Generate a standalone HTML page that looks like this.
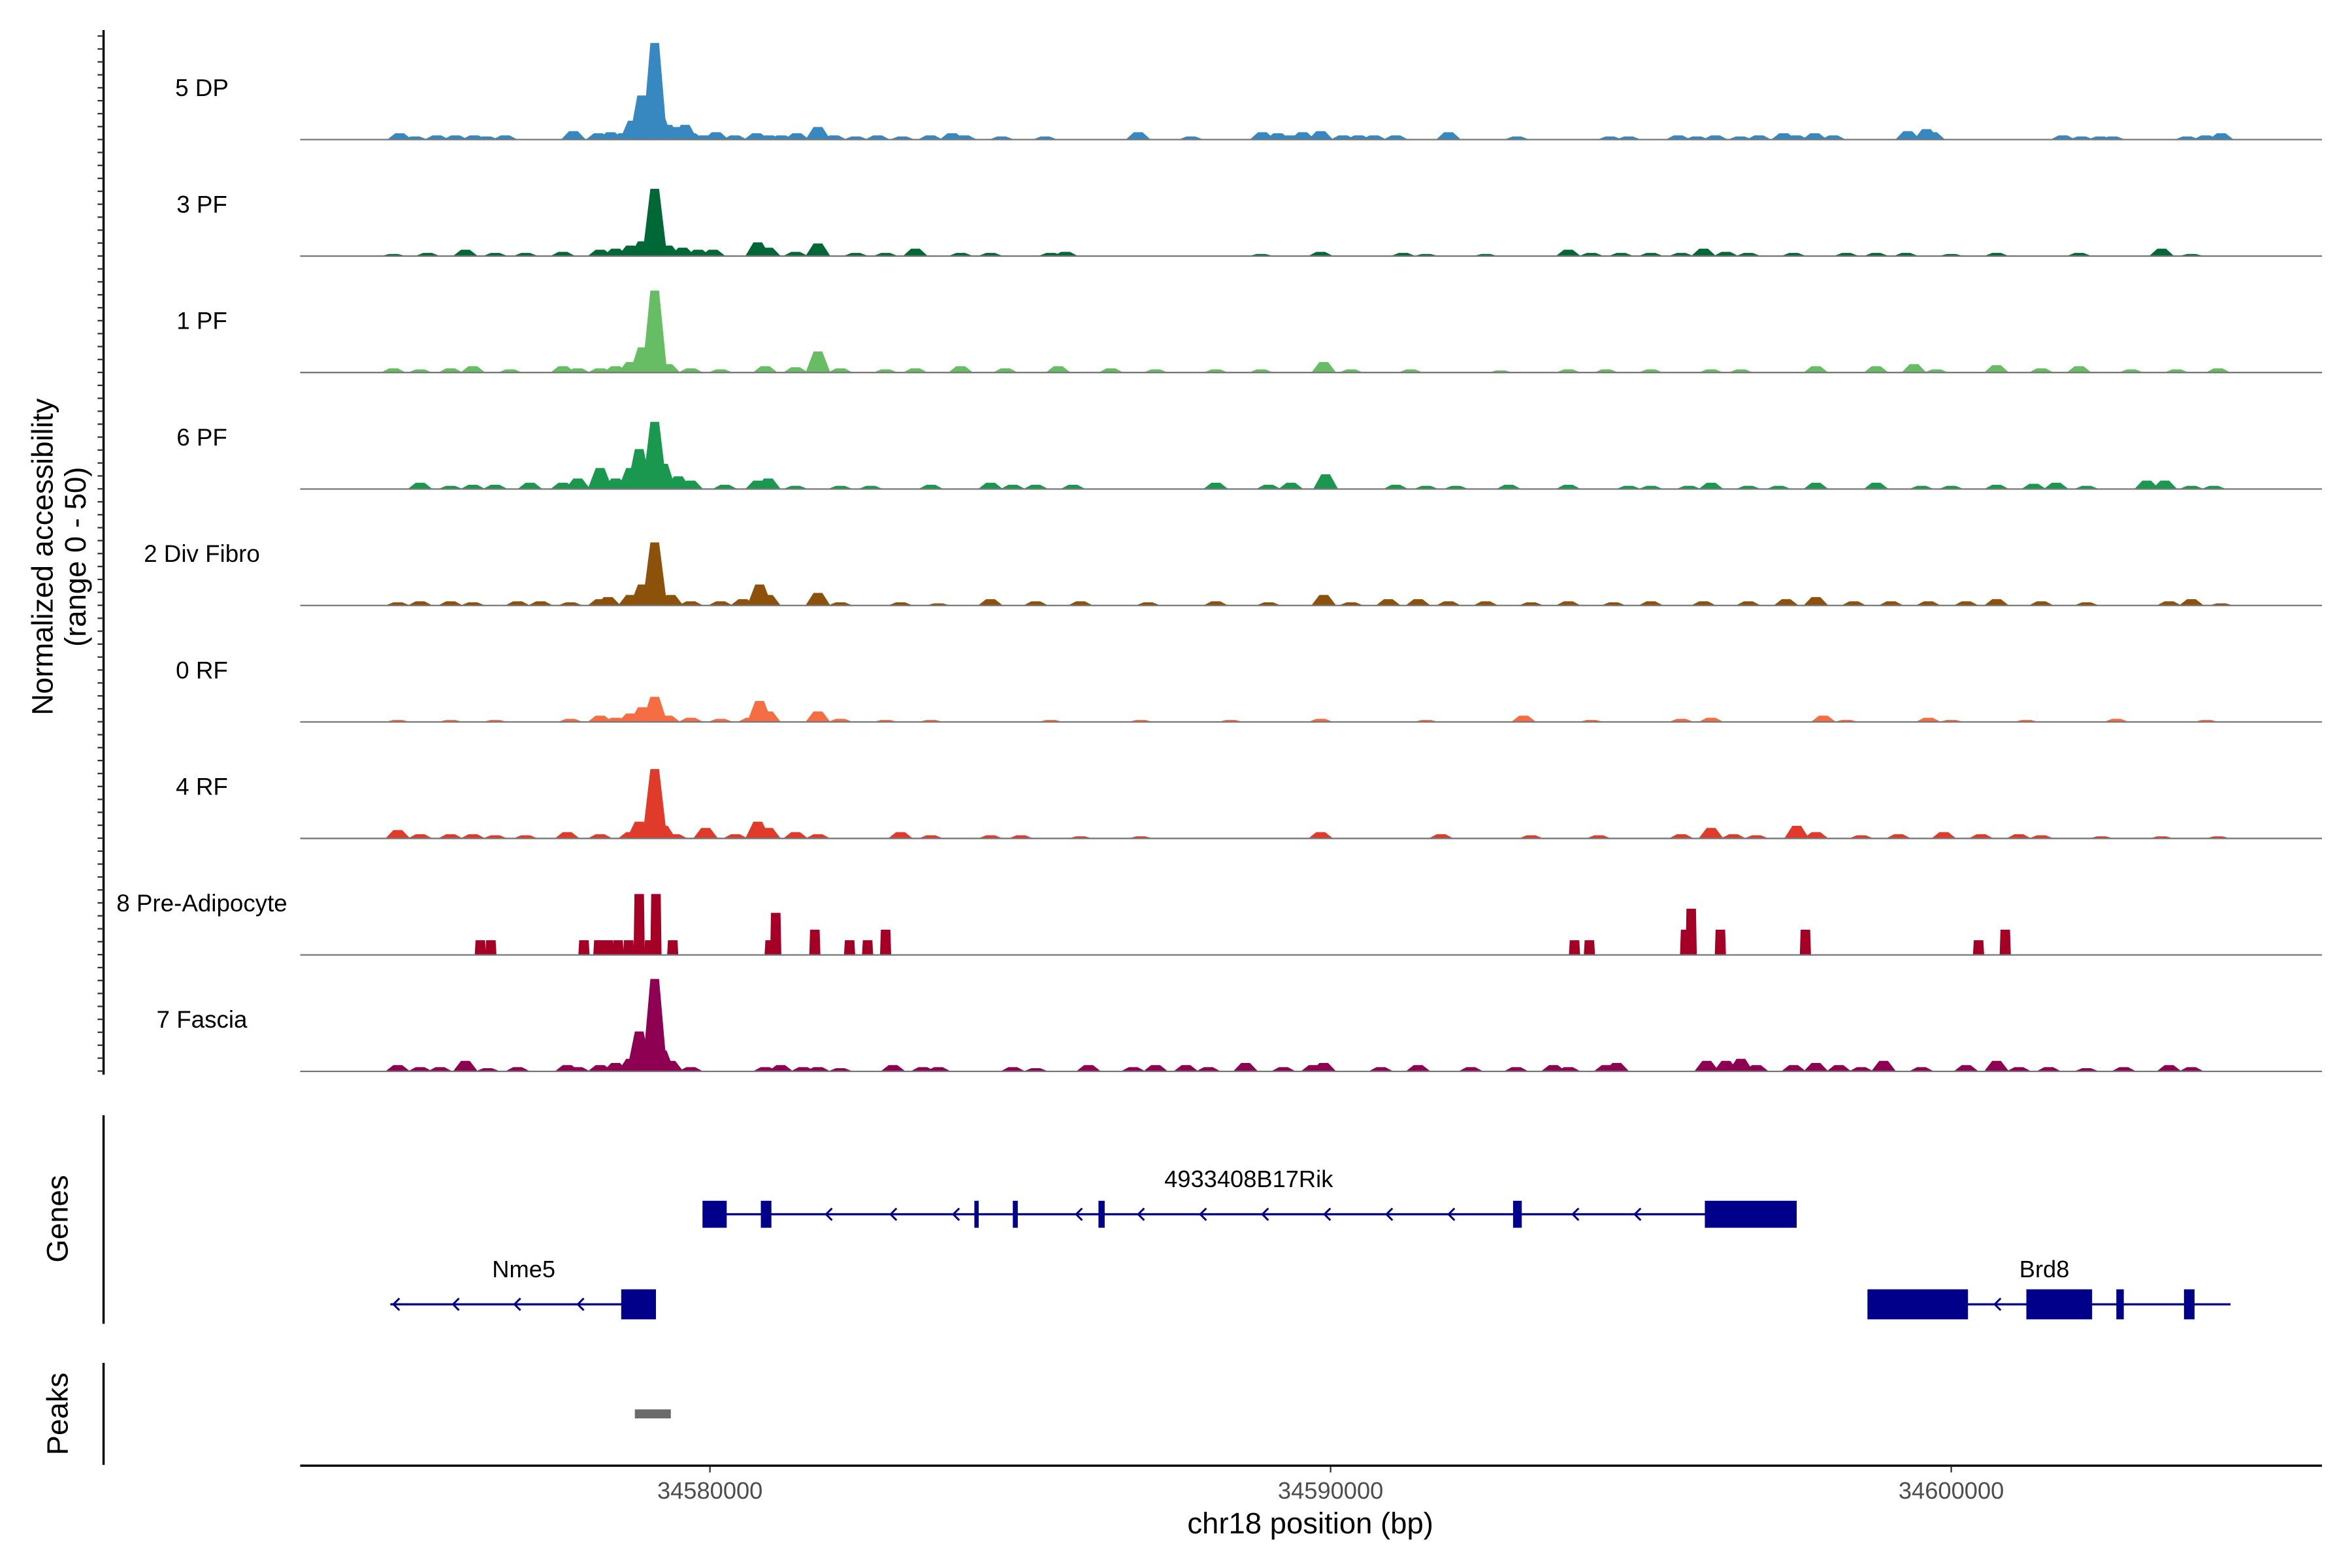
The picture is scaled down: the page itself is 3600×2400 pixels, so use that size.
<!DOCTYPE html>
<html><head><meta charset="utf-8"><style>
html,body{margin:0;padding:0;background:#fff;}
svg{display:block;font-family:"Liberation Sans",Arial,sans-serif;}
</style></head><body>
<svg id="chart" width="3600" height="2400" viewBox="0 0 1567 1044.67" preserveAspectRatio="none" xmlns="http://www.w3.org/2000/svg"></svg>
<script>
// ---- data (positions in kb relative to ORIGIN bp, heights in normalized accessibility 0-50) ----
const ORIGIN = 34580000;
const trackNames = ["5 DP","3 PF","1 PF","6 PF","2 Div Fibro","0 RF","4 RF","8 Pre-Adipocyte","7 Fascia"];
const trackColors = ["#3787c0","#006837","#66bd63","#1a9850","#8c510a","#f46d43","#e03b2a","#a50026","#8e0152"];
const dp5 = [[-5.0,3],[-4.75,1.5],[-4.4,2],[-4.1,2],[-3.8,2],[-3.6,1.5],[-3.3,2],[-2.2,4],[-1.8,3],[-1.6,3.5],[-1.4,3],[-1.25,9],[-1.1,21],[-0.97,15],[-0.89,46],[-0.8,11],[-0.68,7],[-0.55,6],[-0.4,7],[-0.3,3],[-0.1,2],[0.1,3.5],[0.4,2],[0.75,3],[0.95,2],[1.15,2],[1.4,3],[1.74,6],[2.0,2],[2.35,1.5],[2.7,2],[3.1,1.5],[3.55,2],[3.9,3],[4.1,2],[4.7,1.5],[5.4,1.5],[6.9,3.5],[7.75,1.5],[8.9,3.5],[9.15,3],[9.35,2],[9.55,3.5],[9.84,4],[10.2,2],[10.45,2],[10.7,2],[11.05,2],[11.9,3.5],[13.0,1.5],[14.5,1.5],[14.8,1.5],[15.6,2],[15.9,1.5],[16.2,2],[16.6,1.5],[16.9,2],[17.3,3],[17.5,2],[17.8,3],[18.1,2],[19.3,4],[19.6,5],[19.7,3.5],[21.8,2],[22.1,1.5],[22.4,1.5],[22.6,1.5],[23.8,1.5],[24.1,2],[24.35,3]];
const pf3 = [[-5.1,1],[-4.55,1.5],[-3.94,3],[-3.46,1.5],[-2.97,1.5],[-2.37,2],[-1.77,3],[-1.52,3.5],[-1.28,5],[-1.09,7],[-0.89,32],[-0.68,5],[-0.44,4],[-0.19,3],[0.05,3],[0.77,6.5],[0.94,4],[1.38,2],[1.74,6],[2.35,1.5],[2.83,1.5],[3.31,3.5],[4.04,1.5],[4.52,1.5],[5.49,1.5],[5.73,2],[8.88,1],[9.84,2],[11.17,1.5],[11.54,1],[12.5,1],[13.83,3],[14.2,1.5],[14.68,1.5],[15.16,1.5],[15.65,1.5],[16.01,3.5],[16.37,2],[16.73,1.5],[17.46,1.5],[18.31,1.5],[18.79,1.5],[19.27,1.5],[20.0,1],[20.73,1.5],[22.06,1.5],[23.39,3.5],[23.87,1]];
const pf1 = [[-5.1,2],[-4.67,1.5],[-4.18,2],[-3.82,3],[-3.22,1.5],[-2.37,3],[-2.13,2],[-1.77,2],[-1.52,3],[-1.28,5],[-1.09,12],[-0.89,39],[-0.68,4],[-0.31,2],[0.17,1.5],[0.89,3],[1.38,2.5],[1.74,10],[2.1,2],[2.83,1.5],[3.31,2],[4.04,3],[4.76,2],[5.61,3],[6.46,2],[7.18,1.5],[8.15,1.5],[8.88,1.5],[9.89,5],[10.33,1.5],[11.29,1.5],[12.74,1],[13.83,1.5],[14.44,1.5],[15.16,1.5],[16.13,1.5],[16.61,1.5],[17.82,3],[18.79,3],[19.4,4],[19.76,1.5],[20.73,3.5],[21.45,2],[22.06,3],[22.9,1.5],[23.63,1.5],[24.3,2]];
const pf6 = [[-4.67,3],[-4.18,1.5],[-3.82,2],[-3.46,2],[-2.9,3],[-2.37,3],[-2.13,5],[-1.77,10],[-1.52,5],[-1.28,10],[-1.14,19],[-0.89,32],[-0.75,12],[-0.51,6],[-0.31,4],[0.24,2],[0.77,4],[0.94,5],[1.38,1.5],[2.1,1.5],[2.59,1.5],[3.56,2],[4.52,3],[4.88,2],[5.25,2],[5.85,2],[8.15,3],[9.0,2],[9.36,3],[9.92,7],[11.05,2],[11.54,1.5],[12.02,1.5],[12.87,2],[13.83,2],[14.8,1.5],[15.16,1.5],[15.77,1.5],[16.13,3],[16.73,1.5],[17.22,1.5],[17.82,3],[18.79,3],[19.52,1.5],[20.0,1.5],[20.73,2],[21.33,2.5],[21.69,3],[22.18,1.5],[23.15,4],[23.44,4],[23.87,1.5],[24.23,1.5]];
const divFibro2 = [[-5.03,1.5],[-4.67,2],[-4.18,2],[-3.82,1.5],[-3.1,2],[-2.73,2],[-2.25,1.5],[-1.77,3],[-1.64,4],[-1.28,5],[-1.09,10],[-0.89,30],[-0.63,5],[-0.31,2],[0.17,2],[0.53,3],[0.8,10],[0.94,5],[1.74,6],[2.1,1.5],[3.07,1.5],[3.68,1],[4.52,3],[5.25,2],[5.97,2],[7.06,1.5],[8.15,2],[9.0,1.5],[9.89,5],[10.33,1.5],[10.93,3],[11.41,3],[11.9,2],[12.5,2],[13.23,1.5],[13.83,2],[14.56,1.5],[15.16,2],[16.01,2],[16.73,2],[17.34,3],[17.82,4],[18.43,2],[19.03,2],[19.63,2],[20.24,2],[20.73,3],[21.45,2],[22.18,1.5],[23.51,2],[23.87,3],[24.35,1]];
const rf0 = [[-5.03,1],[-4.18,1],[-3.46,1],[-2.25,1.5],[-1.77,3],[-1.52,2],[-1.28,4],[-1.09,7],[-0.89,12],[-0.68,3],[-0.31,2],[0.17,1.5],[0.65,2],[0.8,10],[0.94,5],[1.74,5],[2.1,1.5],[2.83,1],[3.56,1],[5.49,1],[6.94,1],[8.39,1],[9.84,1.5],[11.54,1],[13.11,3],[14.2,1],[15.65,1.5],[16.13,2],[17.94,3],[18.31,1],[19.63,2],[20.0,1],[21.21,1],[22.66,1.5],[24.11,1]];
const rf4 = [[-5.03,4],[-4.67,2],[-4.18,2],[-3.82,2],[-3.46,1.5],[-2.97,1.5],[-2.3,3],[-1.77,2],[-1.28,3],[-1.14,8],[-0.89,33],[-0.75,6],[-0.56,2],[-0.07,5],[0.41,2],[0.77,8],[0.94,5],[1.38,3],[1.74,2],[3.07,3],[3.56,1.5],[4.52,1.5],[5.01,1.5],[5.97,1],[6.94,1],[9.84,3],[11.78,2],[13.23,1.5],[14.32,1.5],[15.65,2],[16.13,5],[16.49,2],[16.86,1.5],[17.51,6],[17.82,3],[18.55,1.5],[19.15,2],[19.88,3],[20.48,2],[21.09,2],[21.45,1.5],[22.42,1],[23.39,1],[24.3,1]];
const preAdipo8 = [[-3.7,7],[-3.53,7],[-2.03,7],[-1.79,7],[-1.64,7],[-1.48,7],[-1.31,7],[-1.14,29],[-0.97,7],[-0.87,29],[-0.6,7],[0.97,7],[1.06,20],[1.69,12],[2.25,7],[2.54,7],[2.83,12],[13.93,7],[14.17,7],[15.72,12],[15.81,22],[16.28,12],[17.65,12],[20.44,7],[20.87,12]];
const fascia7 = [[-5.03,3],[-4.67,2],[-4.35,2],[-3.94,5],[-3.58,1.5],[-3.1,2],[-2.3,3],[-2.13,2],[-1.77,3],[-1.52,4],[-1.28,6],[-1.14,19],[-0.99,13],[-0.89,44],[-0.77,10],[-0.63,5],[-0.31,2],[0.89,2],[1.14,3],[1.5,2],[1.74,2],[2.1,1.5],[2.95,3],[3.43,2],[3.68,2],[4.88,2],[5.25,1.5],[6.1,3],[6.82,2],[7.18,3],[7.67,3],[8.03,2],[8.63,4],[9.24,2],[9.72,3],[9.89,4],[10.81,2],[11.41,3],[12.26,2],[12.99,2],[13.59,3],[13.83,2],[14.44,3],[14.61,4],[16.06,5],[16.37,5],[16.61,6],[16.86,3],[17.46,3],[17.82,4],[18.19,3],[18.55,2],[18.91,5],[19.52,2],[20.24,3],[20.73,5],[21.09,2],[21.57,2],[22.18,1.5],[22.78,2],[23.51,3],[23.87,2]];
const trackData = [dp5, pf3, pf1, pf6, divFibro2, rf0, rf4, preAdipo8, fascia7];
const xTicks = [34580000, 34590000, 34600000];
const xTickLabels = ["34580000","34590000","34600000"];
// genes: [startKb, endKb]
const rikSpan = [-0.12, 17.51];
const rikExons = [[-0.12,0.27],[0.82,0.99],[4.26,4.33],[4.88,4.96],[6.26,6.36],[12.94,13.08],[16.03,17.51]];
const rikChevrons = [1.87,2.91,3.92,5.9,6.9,7.9,8.9,9.9,10.9,11.9,13.9,14.9];
const nme5Span = [-5.15, -0.87];
const nme5Exons = [[-1.43,-0.87]];
const nme5Chevrons = [-4.14,-3.15,-2.13];
const brd8Span = [18.65, 24.5];
const brd8Exons = [[18.65,20.27],[21.21,22.27],[22.66,22.78],[23.75,23.92]];
const brd8Chevrons = [20.7];
const peakRegions = [[-1.21,-0.63]];

// ---- scales ----
const NS = "http://www.w3.org/2000/svg";
const svg = document.getElementById("chart");
function xKb(kb){ return 473 + kb*41.35; }
function xBp(bp){ return xKb((bp-ORIGIN)/1000); }
const Y_PER_UNIT = 1.4;
function baseY(i){ return 93 + i*77.6; }
function yVal(i,v){ return baseY(i) - v*Y_PER_UNIT; }
function mk(tag, attrs, parent){
  const e = document.createElementNS(NS, tag);
  for (const k in attrs) e.setAttribute(k, attrs[k]);
  (parent||svg).appendChild(e);
  return e;
}

// ---- tracks ----
trackData.forEach((arr, i) => {
  const g = mk("g", {});
  
  
  const col = trackColors[i];
  const hw = i === 7 ? 0.09 : 0.2;
  const top = i === 7 ? 0.85 : 0.35;
  arr.forEach(p => {
    const x0 = xKb(p[0]-hw), x1 = xKb(p[0]-hw*top), x2 = xKb(p[0]+hw*top), x3 = xKb(p[0]+hw);
    const yb = baseY(i), yt = yVal(i, p[1]);
    const poly = mk("polygon", {points: `${x0},${yb} ${x1},${yt} ${x2},${yt} ${x3},${yb}`, fill: col}, g);
    
    
  });
  const bl = mk("line", {x1:200, x2:1547, y1:baseY(i), y2:baseY(i), stroke:"#777", "stroke-width":1}, g);
  
  
  const lab = mk("text", {x:134.5, y:baseY(i)-29, "text-anchor":"middle", "font-size":16, fill:"#000"}, g);
  lab.textContent = trackNames[i];
  
  
});

// ---- y axis ----
const ya = mk("line", {x1:69, x2:69, y1:20, y2:716, stroke:"#000", "stroke-width":1.5});


for (let t = 24; t < 716; t += 8.62) {
  const tk = mk("line", {x1:65, x2:69, y1:t, y2:t, stroke:"#333", "stroke-width":1});
  
  
}
const yt1 = mk("text", {x:0, y:0, transform:"translate(35,371) rotate(-90)", "text-anchor":"middle", "font-size":19.8});
yt1.textContent = "Normalized accessibility";


const yt2 = mk("text", {x:0, y:0, transform:"translate(57,371) rotate(-90)", "text-anchor":"middle", "font-size":19.8});
yt2.textContent = "(range 0 - 50)";



// ---- genes panel ----
const ga = mk("line", {x1:69, x2:69, y1:743, y2:882, stroke:"#000", "stroke-width":1.5});


const gl = mk("text", {x:0, y:0, transform:"translate(45,812) rotate(-90)", "text-anchor":"middle", "font-size":19.8});
gl.textContent = "Genes";


const GENE = "#00008b";
function drawGene(name, span, exons, chevs, y, h, labelKb, labelY){
  const g = mk("g", {});
  
  
  mk("line", {x1:xKb(span[0]), x2:xKb(span[1]), y1:y, y2:y, stroke:GENE, "stroke-width":1.5}, g);
  exons.forEach(e => {
    const r = mk("rect", {x:xKb(e[0]), y:y-h/2, width:Math.max(2, xKb(e[1])-xKb(e[0])), height:h, fill:GENE}, g);
    
    
  });
  chevs.forEach(c => {
    const cx = xKb(c);
    mk("polyline", {points:`${cx+4},${y-4} ${cx},${y} ${cx+4},${y+4}`, fill:"none", stroke:GENE, "stroke-width":1.3}, g);
  });
  const t = mk("text", {x:xKb(labelKb), y:labelY, "text-anchor":"middle", "font-size":15.8}, g);
  t.textContent = name;
  
  
}
drawGene("4933408B17Rik", rikSpan, rikExons, rikChevrons, 809, 18, 8.68, 791);
drawGene("Nme5", nme5Span, nme5Exons, [-5.1].concat(nme5Chevrons), 869, 20, -3.0, 851);
drawGene("Brd8", brd8Span, brd8Exons, brd8Chevrons, 869, 20, 21.5, 851);

// ---- peaks panel ----
const pa = mk("line", {x1:69, x2:69, y1:908, y2:976, stroke:"#000", "stroke-width":1.5});


const pl = mk("text", {x:0, y:0, transform:"translate(45,942) rotate(-90)", "text-anchor":"middle", "font-size":19.8});
pl.textContent = "Peaks";


peakRegions.forEach(p => {
  const r = mk("rect", {x:xKb(p[0]), y:939, width:xKb(p[1])-xKb(p[0]), height:6, fill:"#6b6b6b"});
  
  
});

// ---- x axis ----
const xa = mk("line", {x1:200, x2:1547, y1:976.5, y2:976.5, stroke:"#000", "stroke-width":1.5});


xTicks.forEach((t, k) => {
  const x = xBp(t);
  const tk = mk("line", {x1:x, x2:x, y1:977, y2:981, stroke:"#333", "stroke-width":1});
  
  
  const lb = mk("text", {x:x, y:998.5, "text-anchor":"middle", "font-size":15.8, fill:"#4d4d4d"});
  lb.textContent = xTickLabels[k];
  
  
});
const xt = mk("text", {x:873, y:1021.5, "text-anchor":"middle", "font-size":19.8});
xt.textContent = "chr18 position (bp)";


</script>
</body></html>
